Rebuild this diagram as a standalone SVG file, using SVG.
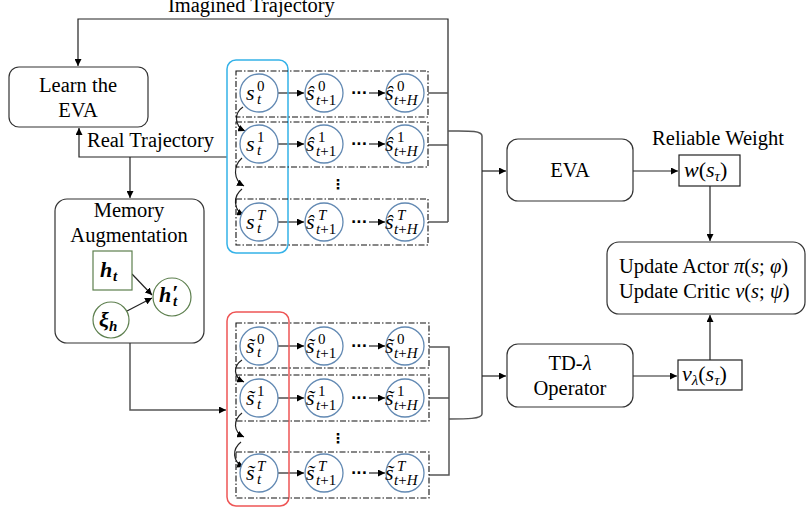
<svg xmlns="http://www.w3.org/2000/svg" width="806" height="512" viewBox="0 0 806 512" font-family="'Liberation Serif', 'Times New Roman', serif">
<defs>
  <marker id="arr" viewBox="0 0 10 10" refX="10" refY="5" markerWidth="7" markerHeight="7" markerUnits="userSpaceOnUse" orient="auto">
    <path d="M0,0 L10,5 L0,10 z" fill="#000"/>
  </marker>
  <style>
    text { font-family: "Liberation Serif", "Times New Roman", serif; fill: #000; }
    .lbl { font-size: 20.5px; }
    .mid { text-anchor: middle; }
    .m { font-style: italic; font-size: 22px; }
    .ms { font-style: italic; font-size: 15px; }
    .up { font-style: normal; }
    .mb { font-style: italic; font-weight: bold; font-size: 22px; }
    .mbs { font-style: italic; font-weight: bold; font-size: 15px; }
    .box { fill: #fff; stroke: #333; stroke-width: 1.2; }
    .sq { fill: #fff; stroke: #222; stroke-width: 1.2; }
    .st { fill: #fff; stroke: #6289b3; stroke-width: 1.3; }
    .row { fill: none; stroke: #111; stroke-width: 1.1; stroke-dasharray: 6 2 1.5 2; }
    .grp-blue { fill: none; stroke: #35b2e8; stroke-width: 1.5; }
    .grp-red { fill: none; stroke: #ee5555; stroke-width: 1.5; }
    .green { fill: #fff; stroke: #5d7f4e; stroke-width: 1.2; }
    .ln { fill: none; stroke: #222; stroke-width: 1.2; }
    .br { fill: none; stroke: #555; stroke-width: 1.5; }
    .dots { font-family: "DejaVu Sans", sans-serif; font-size: 14px; font-weight: bold; }
  </style>
</defs>

<!-- connectors -->
<g id="connectors">
  <!-- imagined trajectory loop back to the learner -->
  <path class="ln" d="M448,222 L448,19 L78,19 L78,66" marker-end="url(#arr)"/>
  <!-- real trajectory -->
  <path class="ln" d="M227,157 L79,157 L79,128" marker-end="url(#arr)"/>
  <path class="ln" d="M130,157 L130,198" marker-end="url(#arr)"/>
  <!-- memory augmentation to augmented rollouts -->
  <path class="br" d="M130,343 L130,410 L226,410" marker-end="url(#arr)"/>
  <!-- upper rollout bracket -->
  <path class="br" d="M428,93 L448,93 M428,145 L448,145 M428,222 L448,222"/>
  <path class="br" d="M448,131 C466,131 482,130 482,136 L482,414 C482,419 466,419 449,419"/>
  <!-- lower rollout bracket -->
  <path class="br" d="M429,347 L449,347 L449,475 L429,475 M429,398 L449,398"/>
  <!-- into EVA and TD-lambda -->
  <path class="ln" d="M482,171 L506,171" marker-end="url(#arr)"/>
  <path class="ln" d="M482,376 L506,376" marker-end="url(#arr)"/>
  <!-- outputs -->
  <path class="ln" d="M633,171 L678,171" marker-end="url(#arr)"/>
  <path class="ln" d="M633,376 L677,376" marker-end="url(#arr)"/>
  <path class="ln" d="M710,186 L710,241" marker-end="url(#arr)"/>
  <path class="ln" d="M710,360 L710,315" marker-end="url(#arr)"/>
  <!-- upper rollout arrows -->
  <path class="ln" d="M278,93 L304,93" marker-end="url(#arr)"/>
  <path class="ln" d="M369,93 L385,93" marker-end="url(#arr)"/>
  <path class="ln" d="M278,144 L304,144" marker-end="url(#arr)"/>
  <path class="ln" d="M369,144 L385,144" marker-end="url(#arr)"/>
  <path class="ln" d="M278,222 L304,222" marker-end="url(#arr)"/>
  <path class="ln" d="M369,222 L385,222" marker-end="url(#arr)"/>
  <path class="ln" d="M243,107 C234,113 234,126 245,131" marker-end="url(#arr)"/>
  <path class="ln" d="M242,158 C233,166 233,180 244,186" marker-end="url(#arr)"/>
  <path class="ln" d="M242,189 C233,196 233,210 244,215" marker-end="url(#arr)"/>
  <!-- lower rollout arrows -->
  <path class="ln" d="M278,346 L304,346" marker-end="url(#arr)"/>
  <path class="ln" d="M369,346 L385,346" marker-end="url(#arr)"/>
  <path class="ln" d="M278,398 L304,398" marker-end="url(#arr)"/>
  <path class="ln" d="M369,398 L385,398" marker-end="url(#arr)"/>
  <path class="ln" d="M278,473 L304,473" marker-end="url(#arr)"/>
  <path class="ln" d="M369,473 L385,473" marker-end="url(#arr)"/>
  <path class="ln" d="M242,360 C233,366 233,377 244,382" marker-end="url(#arr)"/>
  <path class="ln" d="M242,413 C233,420 233,432 244,437" marker-end="url(#arr)"/>
  <path class="ln" d="M241,442 C232,449 232,462 244,467" marker-end="url(#arr)"/>
</g>

<text class="lbl" x="168" y="12">Imagined Trajectory</text>
<text class="lbl" x="87" y="147">Real Trajectory</text>

<g id="learn-eva">
  <rect class="box" x="9" y="67" width="139" height="60" rx="10"/>
  <text class="lbl mid" x="78" y="92">Learn the</text>
  <text class="lbl mid" x="78" y="117">EVA</text>
</g>

<g id="memory-augmentation">
  <rect class="box" x="55" y="199" width="149" height="144" rx="12"/>
  <text class="lbl mid" x="129" y="217">Memory</text>
  <text class="lbl mid" x="129" y="242">Augmentation</text>
  <path class="ln" d="M132,274 L152,295" marker-end="url(#arr)"/>
  <path class="ln" d="M127,311 L152,298" marker-end="url(#arr)"/>
  <rect class="green" x="93" y="251" width="39" height="39"/>
  <text class="mb" x="100" y="277">h</text><text class="mbs" x="113" y="281">t</text>
  <circle class="green" cx="111" cy="320" r="18"/>
  <text class="mb" x="99" y="327">ξ</text><text class="mbs" x="109" y="331">h</text>
  <circle class="green" cx="172" cy="297" r="19"/>
  <text class="mb" x="159" y="302">h</text><text class="mb" x="172" y="300">′</text><text class="mbs" x="173" y="306">t</text>
</g>

<g id="real-rollouts">
  <rect class="grp-blue" x="227" y="60" width="61" height="193" rx="9"/>
  <rect class="row" x="236" y="71" width="192" height="46"/>
  <rect class="row" x="236" y="122" width="192" height="45"/>
  <rect class="row" x="236" y="199" width="192" height="46"/>
  <!-- row 0 -->
  <circle class="st" cx="259" cy="93" r="19"/>
  <text class="m" x="246" y="100">s</text><text class="ms up" x="257" y="91">0</text><text class="ms" x="257" y="104">t</text>
  <circle class="st" cx="324" cy="93" r="19"/>
  <text class="m" x="306" y="100">ŝ</text><text class="ms up" x="318" y="91">0</text><text class="ms" x="316" y="105">t<tspan class="up">+1</tspan></text>
  <text class="dots" x="351" y="98">···</text>
  <circle class="st" cx="405" cy="93" r="19"/>
  <text class="m" x="385" y="100">ŝ</text><text class="ms up" x="397" y="91">0</text><text class="ms" x="394" y="105">t<tspan class="up">+</tspan>H</text>
  <!-- row 1 -->
  <circle class="st" cx="259" cy="144" r="19"/>
  <text class="m" x="246" y="151">s</text><text class="ms up" x="257" y="142">1</text><text class="ms" x="257" y="155">t</text>
  <circle class="st" cx="324" cy="144" r="19"/>
  <text class="m" x="306" y="151">ŝ</text><text class="ms up" x="318" y="142">1</text><text class="ms" x="316" y="156">t<tspan class="up">+1</tspan></text>
  <text class="dots" x="351" y="149">···</text>
  <circle class="st" cx="405" cy="144" r="19"/>
  <text class="m" x="385" y="151">ŝ</text><text class="ms up" x="397" y="142">1</text><text class="ms" x="394" y="156">t<tspan class="up">+</tspan>H</text>
  <text class="dots" x="331" y="189">⋮</text>
  <!-- row T -->
  <circle class="st" cx="259" cy="222" r="19"/>
  <text class="m" x="246" y="229">s</text><text class="ms" x="257" y="220">T</text><text class="ms" x="257" y="233">t</text>
  <circle class="st" cx="324" cy="222" r="19"/>
  <text class="m" x="306" y="229">ŝ</text><text class="ms" x="318" y="220">T</text><text class="ms" x="316" y="234">t<tspan class="up">+1</tspan></text>
  <text class="dots" x="351" y="227">···</text>
  <circle class="st" cx="405" cy="222" r="19"/>
  <text class="m" x="385" y="229">ŝ</text><text class="ms" x="397" y="220">T</text><text class="ms" x="394" y="234">t<tspan class="up">+</tspan>H</text>
</g>

<g id="augmented-rollouts">
  <rect class="grp-red" x="227" y="312" width="62" height="194" rx="9"/>
  <rect class="row" x="236" y="323" width="193" height="45"/>
  <rect class="row" x="236" y="375" width="193" height="46"/>
  <rect class="row" x="236" y="452" width="193" height="46"/>
  <!-- row 0 -->
  <circle class="st" cx="259" cy="346" r="19"/>
  <text class="m" x="246" y="353">s̃</text><text class="ms up" x="257" y="344">0</text><text class="ms" x="257" y="357">t</text>
  <circle class="st" cx="324" cy="346" r="19"/>
  <text class="m" x="306" y="353">s̃</text><text class="ms up" x="318" y="344">0</text><text class="ms" x="316" y="358">t<tspan class="up">+1</tspan></text>
  <text class="dots" x="351" y="351">···</text>
  <circle class="st" cx="405" cy="346" r="19"/>
  <text class="m" x="385" y="353">s̃</text><text class="ms up" x="397" y="344">0</text><text class="ms" x="394" y="358">t<tspan class="up">+</tspan>H</text>
  <!-- row 1 -->
  <circle class="st" cx="259" cy="398" r="19"/>
  <text class="m" x="246" y="405">s̃</text><text class="ms up" x="257" y="396">1</text><text class="ms" x="257" y="409">t</text>
  <circle class="st" cx="324" cy="398" r="19"/>
  <text class="m" x="306" y="405">s̃</text><text class="ms up" x="318" y="396">1</text><text class="ms" x="316" y="410">t<tspan class="up">+1</tspan></text>
  <text class="dots" x="351" y="403">···</text>
  <circle class="st" cx="405" cy="398" r="19"/>
  <text class="m" x="385" y="405">s̃</text><text class="ms up" x="397" y="396">1</text><text class="ms" x="394" y="410">t<tspan class="up">+</tspan>H</text>
  <text class="dots" x="331" y="443">⋮</text>
  <!-- row T -->
  <circle class="st" cx="259" cy="473" r="19"/>
  <text class="m" x="246" y="480">s̃</text><text class="ms" x="257" y="471">T</text><text class="ms" x="257" y="484">t</text>
  <circle class="st" cx="324" cy="473" r="19"/>
  <text class="m" x="306" y="480">s̃</text><text class="ms" x="318" y="471">T</text><text class="ms" x="316" y="485">t<tspan class="up">+1</tspan></text>
  <text class="dots" x="351" y="478">···</text>
  <circle class="st" cx="405" cy="473" r="19"/>
  <text class="m" x="385" y="480">s̃</text><text class="ms" x="397" y="471">T</text><text class="ms" x="394" y="485">t<tspan class="up">+</tspan>H</text>
</g>

<g id="eva">
  <rect class="box" x="507" y="139" width="126" height="62" rx="11"/>
  <text class="lbl mid" x="570" y="177">EVA</text>
</g>

<g id="td-lambda">
  <rect class="box" x="507" y="344" width="126" height="63" rx="11"/>
  <text class="lbl mid" x="570" y="370">TD-<tspan font-style="italic">λ</tspan></text>
  <text class="lbl mid" x="570" y="395">Operator</text>
</g>

<g id="reliable-weight">
  <text class="lbl mid" x="718" y="145">Reliable Weight</text>
  <rect class="sq" x="679" y="155" width="61" height="31"/>
  <text class="m" x="684" y="177">w<tspan class="up">(</tspan>s<tspan class="ms" dy="4">τ</tspan><tspan class="up" dy="-4">)</tspan></text>
</g>

<g id="lambda-return">
  <rect class="sq" x="678" y="360" width="64" height="30"/>
  <text class="m" x="682" y="381">v<tspan class="ms" dy="4">λ</tspan><tspan class="up" dy="-4">(</tspan>s<tspan class="ms" dy="4">τ</tspan><tspan class="up" dy="-4">)</tspan></text>
</g>

<g id="update">
  <rect class="box" x="607" y="242" width="198" height="72" rx="12"/>
  <text class="lbl" x="619" y="273">Update Actor <tspan font-style="italic">π</tspan>(<tspan font-style="italic">s</tspan>; <tspan font-style="italic">φ</tspan>)</text>
  <text class="lbl" x="619" y="298">Update Critic <tspan font-style="italic">v</tspan>(<tspan font-style="italic">s</tspan>; <tspan font-style="italic">ψ</tspan>)</text>
</g>
</svg>
